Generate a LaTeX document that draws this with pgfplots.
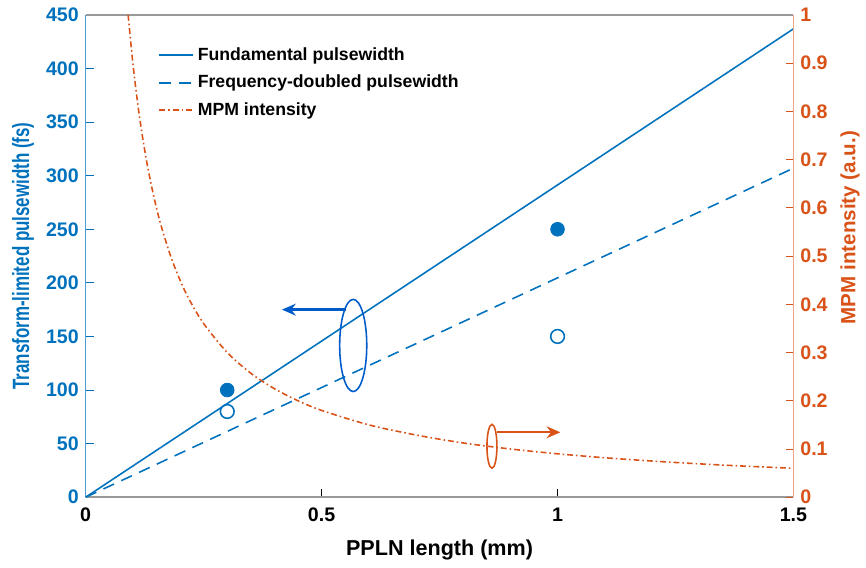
\documentclass[border=0pt]{standalone}
\usepackage{pgfplots}
\pgfplotsset{compat=1.18}
\usetikzlibrary{arrows.meta}
\usepackage{fontspec}
\setmainfont{Liberation Sans}
\newfontfamily\narrowfont[FakeStretch=0.72]{Liberation Sans}
\definecolor{mblue}{rgb}{0,0.447,0.741}
\definecolor{morange}{rgb}{0.85,0.325,0.098}
\definecolor{aorange}{rgb}{0.93,0.66,0.55}
\begin{document}
\begin{tikzpicture}
\begin{axis}[
  scale only axis, width=361pt, height=246pt,
  xmin=0, xmax=1.5, ymin=0, ymax=450,
  axis x line*=bottom, axis y line*=left,
  axis line style={-},
  x axis line style={gray!80, line width=0.8pt},
  y axis line style={mblue!70, line width=0.6pt},
  tick align=inside, major tick length=4pt,
  xtick={0,0.5,1,1.5}, ytick={0,50,...,450},
  xtick style={black, line width=0.4pt},
  ytick style={mblue, line width=0.4pt},
  /pgf/number format/assume math mode=true,
  xticklabel style={font=\bfseries, black, yshift=-2pt},
  yticklabel style={font=\bfseries, mblue},
  xticklabel={\pgfmathprintnumber[fixed,precision=1]{\tick}},
  xlabel={\fontsize{11}{13}\selectfont\bfseries PPLN length (mm)},
  ylabel={\fontsize{12}{14}\selectfont\narrowfont\bfseries Transform-limited pulsewidth (fs)},
  ylabel style={mblue, at={(axis description cs:-0.0886,0.5)}, anchor=center},
  xlabel style={black, at={(axis description cs:0.5,-0.110)}, anchor=center},
  legend style={draw=none, fill=none, font=\small\bfseries, at={(0.094,0.95)}, anchor=north west, row sep=2pt},
  legend cell align=left,
  clip=false,
]
\addlegendimage{draw=mblue, line width=1pt}
\addlegendentry{Fundamental pulsewidth}
\addlegendimage{draw=mblue, line width=1pt, dash pattern=on 6pt off 4pt}
\addlegendentry{Frequency-doubled pulsewidth}
\addlegendimage{draw=morange, line width=1pt, dash pattern=on 3pt off 1.5pt on 0.8pt off 1.5pt}
\addlegendentry{MPM intensity}
\addplot[mblue, line width=0.8pt, forget plot] coordinates {(0,0) (1.5,437)};
\addplot[mblue, line width=0.8pt, dash pattern=on 6pt off 4pt, forget plot] coordinates {(0,0) (1.5,307)};
\addplot[only marks, mark=*, mark size=3.5pt, mark options={fill=mblue, draw=mblue}, forget plot] coordinates {(0.3,100) (1,250)};
\addplot[only marks, mark=o, mark size=3.5pt, mark options={fill=white, draw=mblue, line width=0.8pt}, forget plot] coordinates {(0.3,80) (1,150)};
\draw[mblue!80!blue, line width=0.8pt] (axis cs:0.567,141.6) ellipse [x radius=0.0287, y radius=43];
\draw[mblue!80!blue, line width=1.2pt, -{Stealth[length=7pt,width=6pt]}] (axis cs:0.552,175) -- (axis cs:0.416,175);
\end{axis}
\begin{axis}[
  scale only axis, width=361pt, height=246pt,
  xmin=0, xmax=1.5, ymin=0, ymax=1,
  axis x line*=top, axis y line*=right,
  axis line style={-},
  x axis line style={gray!80, line width=0.8pt},
  y axis line style={aorange, line width=0.6pt},
  xtick=\empty,
  tick align=inside, major tick length=4pt,
  ytick={0,0.1,...,1},
  ytick style={morange, line width=0.4pt},
  /pgf/number format/assume math mode=true,
  yticklabel style={font=\bfseries, morange},
  yticklabel={\pgfmathparse{\tick}\pgfmathprintnumber[fixed,precision=1]{\pgfmathresult}},
  ylabel={\fontsize{10.5}{12.5}\selectfont\bfseries MPM intensity (a.u.)},
  ylabel style={morange, at={(axis description cs:1.080,0.559)}, anchor=center},
  clip=false,
]
\addplot[morange, line width=0.8pt, dash pattern=on 3pt off 1.5pt on 0.8pt off 1.5pt, smooth] coordinates {
(0.09,1.0) (0.1,0.9) (0.11,0.818) (0.12,0.75) (0.13,0.692) (0.14,0.643) (0.15,0.6) (0.16,0.5625) (0.18,0.5) (0.2,0.45) (0.22,0.409) (0.25,0.36) (0.3,0.3) (0.35,0.257) (0.4,0.225) (0.45,0.2) (0.5,0.18) (0.6,0.15) (0.7,0.129) (0.8,0.1125) (0.9,0.1) (1.0,0.09) (1.1,0.0818) (1.2,0.075) (1.3,0.0692) (1.4,0.0643) (1.5,0.06)};
\draw[morange, line width=0.8pt] (axis cs:0.861,0.1056) ellipse [x radius=0.0106, y radius=0.0455];
\draw[morange, line width=1.2pt, -{Stealth[length=7pt,width=6pt]}] (axis cs:0.871,0.1346) -- (axis cs:1.006,0.1346);
\end{axis}
\pgfresetboundingbox
\path[use as bounding box] ([xshift=-43.7pt,yshift=-36pt]current axis.south west) rectangle ([xshift=37pt,yshift=7.6pt]current axis.north east);
\end{tikzpicture}
\end{document}
